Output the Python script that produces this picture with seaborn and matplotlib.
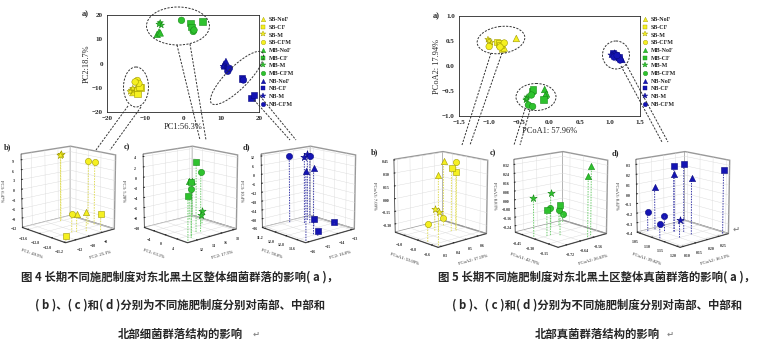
import numpy as np
import pandas as pd
import matplotlib
matplotlib.use('Agg')
import matplotlib.pyplot as plt
import seaborn as sns
from matplotlib.patches import Ellipse
from matplotlib.lines import Line2D
from matplotlib.ticker import MaxNLocator

sns.set_style('white')
plt.rcParams['font.family'] = ['Liberation Serif', 'DejaVu Sans']
plt.rcParams['font.weight'] = 'bold'

W, H = 765, 353

groups = ['SB-NoF', 'SB-CF', 'SB-M', 'SB-CFM', 'MB-NoF', 'MB-CF', 'MB-M', 'MB-CFM',
          'NB-NoF', 'NB-CF', 'NB-M', 'NB-CFM']
shapes = ['^', 's', '*', 'o'] * 3
fills = ['#f5f020'] * 4 + ['#2ec22e'] * 4 + ['#1414b4'] * 4
edges = ['#a09a00'] * 4 + ['#178a17'] * 4 + ['#0a0a80'] * 4
drops = ['#e0dc5a', '#6ccc6c', '#3a3aa8']

# ---- bacteria PCA (fig 4 a)
pca_grp = np.repeat(groups, 3)
pca_x = [-12.8, -12.3, -13.2, -11.2, -12.0, -11.5, -13.6, -13.2, -13.9, -12.0, -11.6, -12.6,
         -6.8, -6.3, -6.0, 2.0, 2.3, 5.1, -6.0, -5.7, -6.3, -0.4, 2.7, 2.9,
         10.8, 11.3, 11.0, 15.5, 18.0, 18.7, 11.5, 12.0, 10.6, 11.8, 15.9, 12.2]
pca_y = [-11.0, -10.3, -12.0, -10.0, -12.5, -9.6, -11.0, -10.3, -11.6, -7.0, -8.2, -7.6,
         12.0, 13.0, 12.6, 16.8, 15.0, 17.4, 16.8, 15.8, 16.2, 17.8, 13.2, 13.8,
         -0.3, 0.8, -1.0, -6.2, -14.2, -13.0, -1.5, -2.5, -1.2, -3.2, -6.8, -2.0]

# ---- fungi PCoA (fig 5 a)
pcoa_x = [-0.55, -0.78, -0.75, -0.87, -0.84, -0.81, -1.02, -0.97, -1.0, -1.0, -0.75, -0.82,
          -0.08, -0.05, -0.07, -0.10, -0.29, -0.27, -0.39, -0.37, -0.38, -0.30, -0.35, -0.28,
          1.18, 1.12, 1.20, 1.05, 1.10, 1.15, 1.02, 1.08, 1.13, 1.07, 1.17, 1.12]
pcoa_y = [0.55, 0.34, 0.36, 0.48, 0.45, 0.42, 0.53, 0.47, 0.50, 0.39, 0.46, 0.38,
          -0.47, -0.56, -0.59, -0.67, -0.50, -0.47, -0.68, -0.62, -0.66, -0.58, -0.78, -0.81,
          0.16, 0.20, 0.13, 0.25, 0.22, 0.18, 0.22, 0.26, 0.15, 0.18, 0.12, 0.21]

# ---- 3D sub panels: treatment index (0 NoF, 1 CF, 2 M, 3 CFM)
b4_t = [0, 0, 1, 1, 2, 2, 3, 3, 3]
b4_x = [-11.9, -11.7, -11.3, -11.4, -13.8, -13.6, -12.4, -12.2, -12.0]
b4_y = [-10.0, -9.0, -13.0, -7.5, -8.0, -8.5, -7.0, -6.5, -10.5]
b4_z = [-6.5, -6.0, -10.5, -7.0, 9.0, 9.2, 8.0, 7.6, -6.3]
c4_t = [0, 0, 1, 1, 1, 2, 2, 3, 3]
c4_x = [-6.5, -5.5, 3.0, 5.5, 6.5, -1.0, -0.5, 3.5, 4.5]
c4_y = [18.0, 17.0, 14.0, 12.0, 11.0, 17.0, 16.5, 14.5, 12.5]
c4_z = [-2.5, -2.0, 3.5, 0.5, -1.5, -7.5, -8.0, 1.5, -1.0]
d4_t = [0, 0, 1, 1, 1, 2, 2, 3, 3]
d4_x = [14.0, 13.5, 12.5, 13.0, 13.8, 11.5, 11.8, 11.2, 12.0]
d4_y = [-16.0, -15.0, -14.0, -13.0, -15.0, -13.5, -14.0, -14.5, -13.8]
d4_z = [8.0, 7.5, -31.0, -34.0, -33.0, 10.0, 9.6, 10.0, 9.8]
b5_t = [0, 0, 1, 1, 2, 2, 3, 3, 3]
b5_x = [-1.0, -0.55, -0.8, -0.78, -0.9, -0.92, -0.82, -0.7, -1.1]
b5_y = [0.6, 0.3, 0.55, 0.58, 0.5, 0.48, 0.6, 0.3, 0.65]
b5_z = [0.38, 0.38, 0.35, 0.3, -0.18, -0.14, 0.4, -0.2, -0.35]
c5_t = [0, 0, 1, 1, 2, 2, 3, 3, 3]
c5_x = [-0.1, -0.08, -0.25, -0.3, -0.45, -0.35, -0.3, -0.45, -0.5]
c5_y = [-0.55, -0.58, -0.65, -0.7, -0.6, -0.75, -0.68, -0.55, -0.5]
c5_z = [0.32, 0.25, -0.02, -0.06, 0.02, 0.05, -0.05, -0.15, -0.22]
d5_t = [0, 0, 0, 1, 1, 1, 2, 3, 3, 3]
d5_x = [1.1, 1.15, 1.05, 1.2, 1.1, 1.12, 1.15, 1.05, 1.08, 1.12]
d5_y = [0.18, 0.2, 0.15, 0.28, 0.18, 0.2, 0.15, 0.12, 0.16, 0.1]
d5_z = [0.2, 0.18, 0.05, 0.25, 0.28, 0.3, -0.22, -0.2, -0.24, -0.25]

labels3d = {
    'b4': ('PC1: 49.9%', 'PC2: 25.1%', 'PC3: 6.47%'),
    'c4': ('PC1: 63.1%', 'PC2: 17.5%', 'PC3: 5.28%'),
    'd4': ('PC1: 58.0%', 'PC2: 16.0%', 'PC3: 10.4%'),
    'b5': ('PCoA1: 53.09%', 'PCoA2: 17.19%', 'PCoA3: 7.09%'),
    'c5': ('PCoA1: 42.70%', 'PCoA2: 26.63%', 'PCoA3: 8.83%'),
    'd5': ('PCoA1: 39.82%', 'PCoA2: 16.13%', 'PCoA3: 8.42%'),
}

cap4 = ['图 4 长期不同施肥制度对东北黑土区整体细菌群落的影响( a )，',
        '( b )、( c )和( d )分别为不同施肥制度分别对南部、中部和',
        '北部细菌群落结构的影响']
cap5 = ['图 5 长期不同施肥制度对东北黑土区整体真菌群落的影响( a )，',
        '( b )、( c )和( d )分别为不同施肥制度分别对南部、中部和',
        '北部真菌群落结构的影响']

fig = plt.figure(figsize=(W / 100, H / 100), dpi=100)
fig.patch.set_facecolor('white')


def rect(x0, y0, x1, y1):
    return [x0 / W, 1 - y1 / H, (x1 - x0) / W, (y1 - y0) / H]


def scatter2d(box, xs, ys, xlim, ylim, ticks_x, ticks_y, xlabel, ylabel, leg_x):
    ax = fig.add_axes(rect(*box))
    df = pd.DataFrame({'x': xs, 'y': ys, 'group': pca_grp})
    edge_of = dict(zip(groups, edges))
    sns.scatterplot(data=df, x='x', y='y', hue='group', style='group',
                    palette=dict(zip(groups, fills)), markers=dict(zip(groups, shapes)),
                    s=22, linewidth=0.4, edgecolor=[edge_of[g] for g in df['group']],
                    legend=False, ax=ax, zorder=3)
    ax.set_xlim(xlim)
    ax.set_ylim(ylim)
    ax.set_xticks(ticks_x)
    ax.set_yticks(ticks_y)
    ax.tick_params(labelsize=5, length=2, width=0.5, pad=1, direction='out')
    for s in ax.spines.values():
        s.set_linewidth(0.6)
    ax.set_xlabel(xlabel, fontsize=6, labelpad=1)
    ax.set_ylabel(ylabel, fontsize=6, labelpad=1)
    handles = [Line2D([], [], linestyle='none', marker=m, markersize=3.2 if m != '*' else 4,
                      markerfacecolor=f, markeredgecolor=e, markeredgewidth=0.3)
               for m, f, e in zip(shapes, fills, edges)]
    fig.legend(handles, groups, loc='upper left', bbox_to_anchor=(leg_x / W, 1 - 14 / H),
               frameon=False, fontsize=4.3, handlelength=0.8, handletextpad=0.5,
               labelspacing=0.42, borderpad=0)
    return ax


def scatter3d(box, tag, t, xs, ys, zs, base, zlo, tint):
    ax = fig.add_axes(rect(*box), projection='3d')
    ax.view_init(elev=14, azim=-42)
    for k in range(len(t)):
        ax.plot([xs[k], xs[k]], [ys[k], ys[k]], [zlo, zs[k]], linestyle=(0, (1.5, 1.2)),
                color=tint, linewidth=0.7)
    for k in range(len(t)):
        g = base + t[k]
        ax.scatter([xs[k]], [ys[k]], [zs[k]], marker=shapes[g], s=20 if shapes[g] != '*' else 30,
                   color=fills[g], edgecolor=edges[g], linewidth=0.4, depthshade=False)
    ax.set_zlim(zlo, None)
    lx, ly, lz = labels3d[tag]
    ax.set_xlabel(lx, fontsize=3.3, labelpad=-11)
    ax.set_ylabel(ly, fontsize=3.3, labelpad=-11)
    ax.set_zlabel(lz, fontsize=3.3, labelpad=-11)
    ax.tick_params(labelsize=2.8, pad=-4)
    for a in (ax.xaxis, ax.yaxis, ax.zaxis):
        a.set_major_locator(MaxNLocator(4))
        a.set_pane_color((1, 1, 1, 1))
        a._axinfo['grid']['color'] = (0.85, 0.85, 0.85, 1)
        a._axinfo['grid']['linewidth'] = 0.3
        a._axinfo['tick']['inward_factor'] = 0.0
        a._axinfo['tick']['outward_factor'] = 0.2
        a.line.set_linewidth(0.5)
        a.pane.set_edgecolor('#999999')
    ax.zaxis.set_major_locator(MaxNLocator(8))
    ax.zaxis.set_ticks_position('lower')
    ax.zaxis.set_label_position('lower')
    ax.set_box_aspect((1, 1, 1.15), zoom=0.95)
    return ax


scatter2d((107, 15, 259, 112), pca_x, pca_y, (-20, 20), (-20, 20),
          [-20, -10, 0, 10, 20], [-20, -10, 0, 10, 20], 'PC1:56.3%', 'PC2:18.7%', 258)
scatter2d((459, 16, 640, 116), pcoa_x, pcoa_y, (-1.5, 1.5), (-1.0, 1.0),
          [-1.5, -1.0, -0.5, 0.0, 0.5, 1.0, 1.5], [-1.0, -0.5, 0.0, 0.5, 1.0],
          'PCoA1: 57.96%', 'PCoA2: 17.94%', 640)

scatter3d((5, 132, 128, 255), 'b4', b4_t, b4_x, b4_y, b4_z, 0, -12, drops[0])
scatter3d((127, 132, 250, 255), 'c4', c4_t, c4_x, c4_y, c4_z, 4, -10, drops[1])
scatter3d((245, 132, 368, 255), 'd4', d4_t, d4_x, d4_y, d4_z, 8, -36, drops[2])
scatter3d((378, 137, 500, 260), 'b5', b5_t, b5_x, b5_y, b5_z, 0, -0.4, drops[0])
scatter3d((498, 137, 620, 260), 'c5', c5_t, c5_x, c5_y, c5_z, 4, -0.3, drops[1])
scatter3d((620, 137, 742, 260), 'd5', d5_t, d5_x, d5_y, d5_z, 8, -0.4, drops[2])

# ---- overlay: ellipses, connector lines, panel tags, captions
ov = fig.add_axes([0, 0, 1, 1], zorder=20)
ov.set_xlim(0, W)
ov.set_ylim(H, 0)
ov.axis('off')
ov.patch.set_alpha(0)
dash = dict(linestyle=(0, (2.2, 1.4)), color='#333333', linewidth=0.7)
for cx, cy, w, h, a in [(136, 87, 25, 40, 0), (178, 26, 63, 38, 0), (237, 78, 72, 22, -45),
                        (501, 40, 48, 27, -8), (536, 97, 40, 27, 0), (616, 55, 27, 28, 0)]:
    ov.add_patch(Ellipse((cx, cy), w, h, angle=a, fill=False, **dash))
for seg in [((128, 106), (96, 150)), ((141, 107), (110, 150)),
            ((177, 45), (200, 140)), ((190, 44), (206, 140)),
            ((254, 100), (290, 140)), ((260, 96), (296, 140)),
            ((491, 53), (462, 145)), ((502, 53), (470, 145)),
            ((525, 109), (514, 145)), ((530, 110), (520, 145)),
            ((621, 66), (662, 142)), ((626, 64), (668, 142))]:
    (x0, y0), (x1, y1) = seg
    ov.plot([x0, x1], [y0, y1], **dash)
for x, y, s in [(82, 14, 'a)'), (433, 16, 'a)'), (4, 147, 'b)'), (124, 147, 'c)'), (243, 147, 'd)'),
                (371, 152, 'b)'), (490, 153, 'c)'), (612, 153, 'd)')]:
    ov.text(x, y, s, fontsize=6, fontweight='bold', va='center', ha='left')
cjk = ['Noto Sans CJK SC', 'DejaVu Sans']
for i, (l4, l5) in enumerate(zip(cap4, cap5)):
    y = 277 + i * 28.5
    ov.text(180, y, l4, family=cjk, fontsize=8.2, fontweight='bold', ha='center', va='center')
    ov.text(597, y, l5, family=cjk, fontsize=8.2, fontweight='bold', ha='center', va='center')
ov.text(253, 334, '↵', family=cjk, fontsize=6, color='#888888', va='center')
ov.text(667, 334, '↵', family=cjk, fontsize=6, color='#888888', va='center')
ov.text(733, 229, '↵', family=cjk, fontsize=6, color='#888888', va='center')

fig.savefig('out.png', dpi=100)
